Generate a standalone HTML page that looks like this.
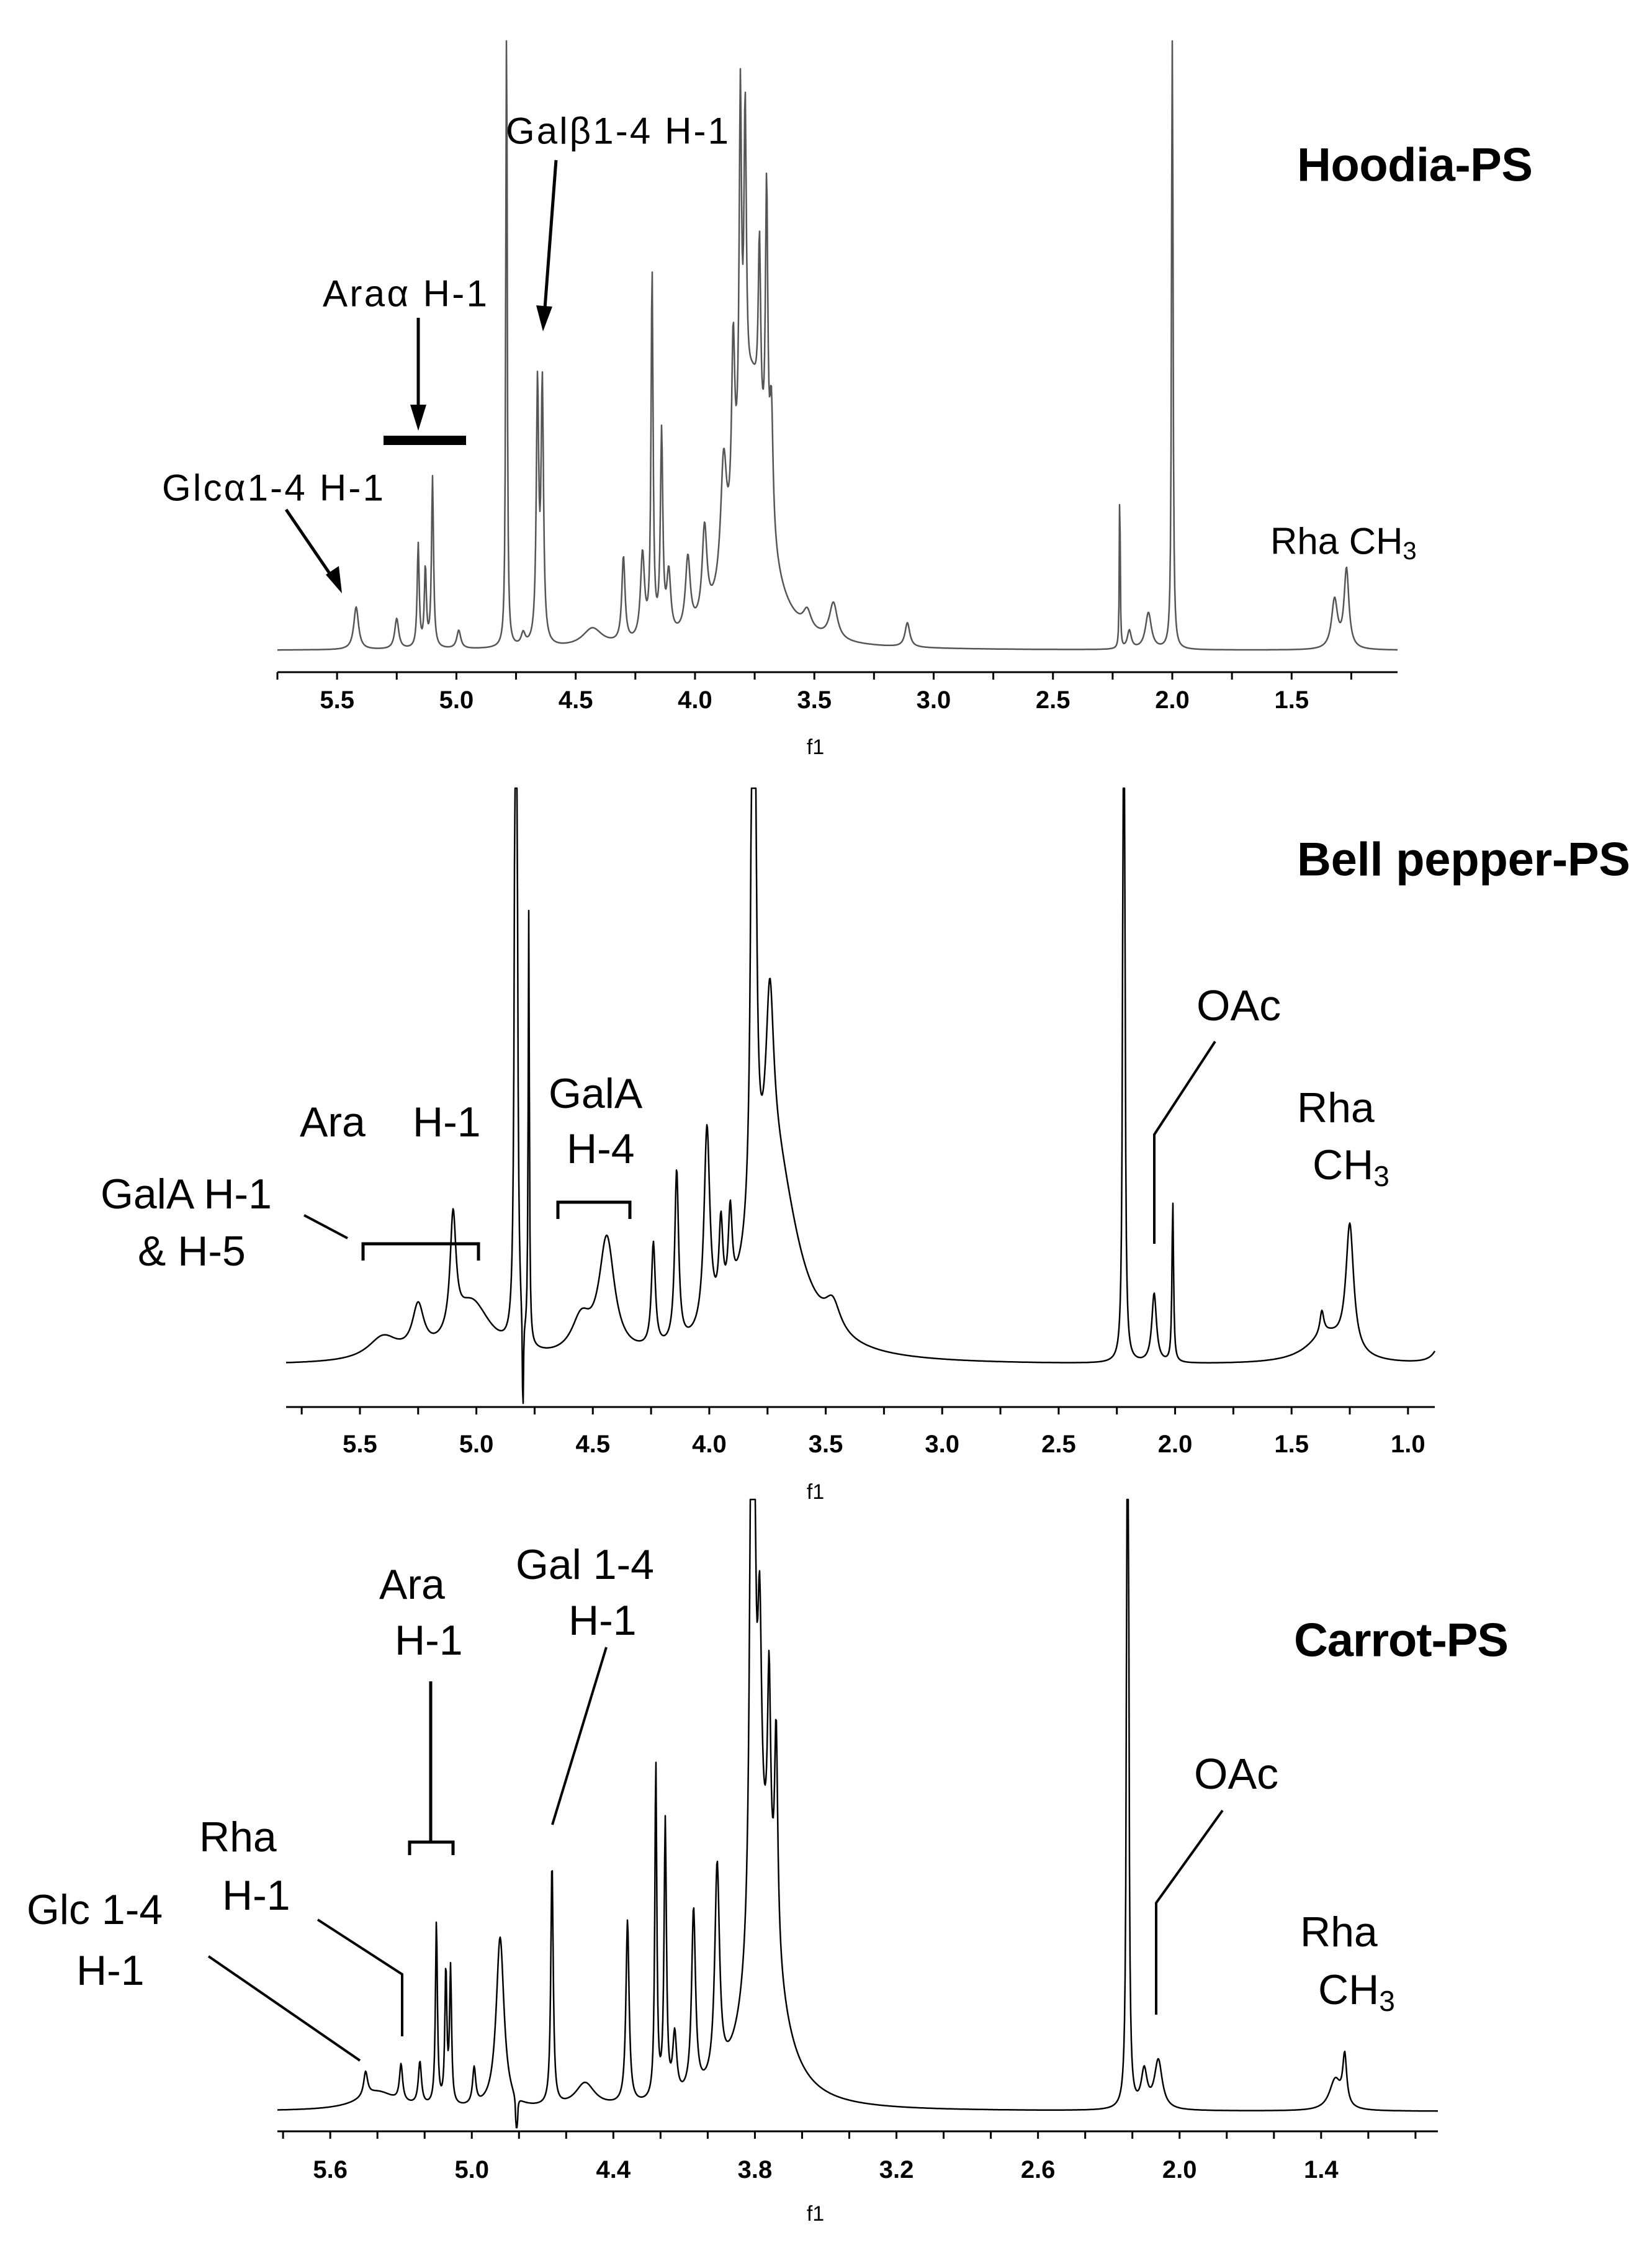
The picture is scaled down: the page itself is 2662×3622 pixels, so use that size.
<!DOCTYPE html>
<html><head><meta charset="utf-8"><style>
html,body{margin:0;padding:0;background:#fff}
svg{display:block}
text{font-family:"Liberation Sans",Arial,sans-serif;fill:#000}
</style></head><body>
<svg id="fig" width="2662" height="3622" viewBox="0 0 2662 3622" xmlns="http://www.w3.org/2000/svg">
<rect width="2662" height="3622" fill="#fff"/>
<g id="p1"></g>
<g id="p2"></g>
<g id="p3"></g>

<text x="2090" y="266" font-size="76" font-weight="bold" dominant-baseline="central" textLength="380">Hoodia-PS</text>
<text x="815" y="211" font-size="60" dominant-baseline="central" textLength="359">Galβ1-4 H-1</text>
<line x1="896" y1="258" x2="877" y2="510" stroke="#000" stroke-width="5"/>
<polygon points="875,534 864,492 890,494" fill="#000"/>
<text x="520" y="473" font-size="60" dominant-baseline="central" textLength="265">Araα H-1</text>
<line x1="674" y1="512" x2="674" y2="670" stroke="#000" stroke-width="5"/>
<polygon points="674,694 661,652 687,652" fill="#000"/>
<rect x="618" y="702" width="133" height="15" fill="#000"/>
<text x="261" y="786" font-size="60" dominant-baseline="central" textLength="357">Glcα1-4 H-1</text>
<line x1="461" y1="821" x2="538" y2="934" stroke="#000" stroke-width="5"/>
<polygon points="551,956 525,926 546,912" fill="#000"/>
<text x="2047" y="872" font-size="60" dominant-baseline="central">Rha CH<tspan font-size="40" dy="16">3</tspan></text>

<text x="2090" y="1385" font-size="76" font-weight="bold" dominant-baseline="central" textLength="537">Bell pepper-PS</text>
<text x="483" y="1808" font-size="68" dominant-baseline="central">Ara</text>
<text x="665" y="1808" font-size="68" dominant-baseline="central">H-1</text>
<text x="884" y="1762" font-size="68" dominant-baseline="central">GalA</text>
<text x="913" y="1851" font-size="68" dominant-baseline="central">H-4</text>
<path d="M899,1964 V1937 H1015 V1964" fill="none" stroke="#000" stroke-width="5"/>
<text x="162" y="1924" font-size="68" dominant-baseline="central">GalA H-1</text>
<text x="222" y="2016" font-size="68" dominant-baseline="central">&amp; H-5</text>
<line x1="490" y1="1958" x2="560" y2="1995" stroke="#000" stroke-width="4"/>
<path d="M585,2031 V2004 H771 V2031" fill="none" stroke="#000" stroke-width="5"/>
<text x="1928" y="1620" font-size="70" dominant-baseline="central">OAc</text>
<path d="M1958,1678 L1860,1828 V2004" fill="none" stroke="#000" stroke-width="4"/>
<text x="2090" y="1785" font-size="68" dominant-baseline="central">Rha</text>
<text x="2115" y="1877" font-size="68" dominant-baseline="central">CH<tspan font-size="46" dy="18">3</tspan></text>

<text x="2085" y="2643" font-size="76" font-weight="bold" dominant-baseline="central" textLength="346">Carrot-PS</text>
<text x="611" y="2553" font-size="68" dominant-baseline="central">Ara</text>
<text x="636" y="2643" font-size="68" dominant-baseline="central">H-1</text>
<text x="831" y="2521" font-size="68" dominant-baseline="central">Gal  1-4</text>
<text x="916" y="2611" font-size="68" dominant-baseline="central">H-1</text>
<line x1="977" y1="2654" x2="890" y2="2940" stroke="#000" stroke-width="4"/>
<path d="M694,2709 V2968 M660,2989 V2968 H730 V2989" fill="none" stroke="#000" stroke-width="5"/>
<text x="321" y="2960" font-size="68" dominant-baseline="central">Rha</text>
<text x="358" y="3054" font-size="68" dominant-baseline="central">H-1</text>
<path d="M512,3093 L648,3181 V3281" fill="none" stroke="#000" stroke-width="4"/>
<text x="43" y="3077" font-size="68" dominant-baseline="central">Glc  1-4</text>
<text x="123" y="3175" font-size="68" dominant-baseline="central">H-1</text>
<line x1="336" y1="3152" x2="580" y2="3320" stroke="#000" stroke-width="4"/>
<text x="1924" y="2858" font-size="70" dominant-baseline="central">OAc</text>
<path d="M1970,2917 L1863,3066 V3246" fill="none" stroke="#000" stroke-width="4"/>
<text x="2095" y="3113" font-size="68" dominant-baseline="central">Rha</text>
<text x="2124" y="3206" font-size="68" dominant-baseline="central">CH<tspan font-size="46" dy="18">3</tspan></text>
</svg>
<script>
const hoodiaPeaks = [[5.42,0.07,0.012],[5.25,0.05,0.01],[5.16,0.17,0.005],[5.13,0.13,0.005],[5.10,0.28,0.005],[4.99,0.03,0.01],[4.79,1.3,0.003],[4.72,0.02,0.01],[4.66,0.42,0.006],[4.64,0.42,0.006],[4.43,0.03,0.05],[4.30,0.14,0.008],[4.22,0.14,0.01],[4.18,0.6,0.005],[4.14,0.33,0.006],[4.11,0.1,0.01],[4.03,0.12,0.012],[3.96,0.15,0.012],[3.88,0.2,0.015],[3.84,0.3,0.008],[3.81,0.6,0.006],[3.79,0.5,0.006],[3.73,0.3,0.006],[3.70,0.5,0.006],[3.68,0.2,0.008],[3.76,0.42,0.07],[3.53,0.03,0.02],[3.42,0.06,0.02],[3.11,0.04,0.012],[2.22,0.3,0.002],[2.18,0.03,0.01],[2.10,0.06,0.015],[2.00,1.3,0.003],[1.32,0.08,0.015],[1.27,0.13,0.012]];
const pepperPeaks = [[5.40,0.04,0.08],[5.25,0.08,0.03],[5.10,0.2,0.015],[5.02,0.1,0.1],[4.83,3,0.004],[4.80,-0.25,0.002],[4.775,0.75,0.003],[4.44,0.2,0.04],[4.55,0.06,0.05],[4.24,0.18,0.01],[4.14,0.3,0.01],[4.01,0.35,0.015],[3.95,0.15,0.01],[3.91,0.15,0.01],[3.81,2,0.008],[3.74,0.3,0.02],[3.72,0.35,0.12],[3.47,0.05,0.04],[2.22,3,0.003],[2.09,0.12,0.012],[2.01,0.28,0.004],[1.37,0.04,0.01],[1.25,0.22,0.02],[1.35,0.05,0.1],[0.85,0.05,0.03]];
const carrotPeaks = [[5.45,0.04,0.01],[5.4,0.03,0.1],[5.30,0.06,0.008],[5.22,0.07,0.008],[5.15,0.3,0.005],[5.11,0.22,0.005],[5.09,0.22,0.005],[4.99,0.06,0.008],[4.88,0.28,0.02],[4.81,-0.2,0.002],[4.66,0.4,0.006],[4.52,0.04,0.05],[4.34,0.3,0.008],[4.22,0.55,0.005],[4.18,0.45,0.006],[4.14,0.1,0.01],[4.06,0.3,0.01],[3.96,0.35,0.012],[3.81,2,0.008],[3.78,0.4,0.01],[3.74,0.35,0.008],[3.71,0.35,0.008],[3.76,0.35,0.08],[2.22,3,0.003],[2.15,0.06,0.015],[2.09,0.08,0.02],[1.34,0.05,0.03],[1.30,0.08,0.01]];
const hoodiaTicks = [5.5,5.0,4.5,4.0,3.5,3.0,2.5,2.0,1.5];
const pepperTicks = [5.5,5.0,4.5,4.0,3.5,3.0,2.5,2.0,1.5,1.0];
const carrotTicks = [5.6,5.0,4.4,3.8,3.2,2.6,2.0,1.4];
const hoodiaTickLabels = ["5.5","5.0","4.5","4.0","3.5","3.0","2.5","2.0","1.5"];
const pepperTickLabels = ["5.5","5.0","4.5","4.0","3.5","3.0","2.5","2.0","1.5","1.0"];
const carrotTickLabels = ["5.6","5.0","4.4","3.8","3.2","2.6","2.0","1.4"];

const NS='http://www.w3.org/2000/svg';
function mk(tag, attrs, parent){const e=document.createElementNS(NS,tag);for(const k in attrs)e.setAttribute(k,attrs[k]);parent.appendChild(e);return e;}

function panel(g, cfg){
  const xs = p => cfg.x0 + (cfg.p0 - p)/(cfg.p0 - cfg.p1)*(cfg.x1 - cfg.x0);
  const ys = v => cfg.base - v*cfg.unit;
  const ax = mk('line',{x1:cfg.x0,y1:cfg.axisY,x2:cfg.x1,y2:cfg.axisY,stroke:'#000','stroke-width':3},g);
  
  
  for(let p=Math.ceil(cfg.p1/cfg.minor)*cfg.minor; p<=cfg.p0+1e-9; p+=cfg.minor){
    const t=mk('line',{x1:xs(p),y1:cfg.axisY,x2:xs(p),y2:cfg.axisY+12,stroke:'#000','stroke-width':3},g);
    
    
  }
  cfg.ticks.forEach((p,i)=>{
    const t=mk('text',{x:xs(p),y:cfg.labelY,'font-size':40,'text-anchor':'middle','dominant-baseline':'central','font-weight':'bold'},g);
    t.textContent=cfg.labels[i];
    
    
  });
  const f=mk('text',{x:1314,y:cfg.f1Y,'font-size':34,'text-anchor':'middle','dominant-baseline':'central'},g);
  f.textContent='f1';
  
  
  let d='';
  for(let x=cfg.x0; x<=cfg.x1; x+=1){
    const p = cfg.p0 - (x-cfg.x0)/(cfg.x1-cfg.x0)*(cfg.p0-cfg.p1);
    let v=0;
    cfg.peaks.forEach(pk=>{const u=(p-pk[0])/pk[2]; v+=pk[1]/(1+u*u);});
    let y=ys(v);
    y=Math.max(cfg.top,Math.min(cfg.axisY-6,y));
    d+=(x===cfg.x0?'M':'L')+x+','+y.toFixed(1);
  }
  const s=mk('path',{d:d,fill:'none',stroke:cfg.color,'stroke-width':cfg.sw,'stroke-linejoin':'round'},g);
  
  
}

panel(document.getElementById('p1'),{x0:447,x1:2252,p0:5.75,p1:1.056,axisY:1083,labelY:1128,f1Y:1204,base:1048,unit:982,top:66,peaks:hoodiaPeaks,ticks:hoodiaTicks,labels:hoodiaTickLabels,minor:0.25,color:'#555',sw:2.5});
panel(document.getElementById('p2'),{x0:461,x1:2312,p0:5.817,p1:0.885,axisY:2267,labelY:2327,f1Y:2404,base:2200,unit:930,top:1270,peaks:pepperPeaks,ticks:pepperTicks,labels:pepperTickLabels,minor:0.25,color:'#000',sw:2.5});
panel(document.getElementById('p3'),{x0:447,x1:2317,p0:5.824,p1:0.905,axisY:3434,labelY:3496,f1Y:3567,base:3402,unit:986,top:2416,peaks:carrotPeaks,ticks:carrotTicks,labels:carrotTickLabels,minor:0.2,color:'#000',sw:2.5});
</script>
</body></html>
